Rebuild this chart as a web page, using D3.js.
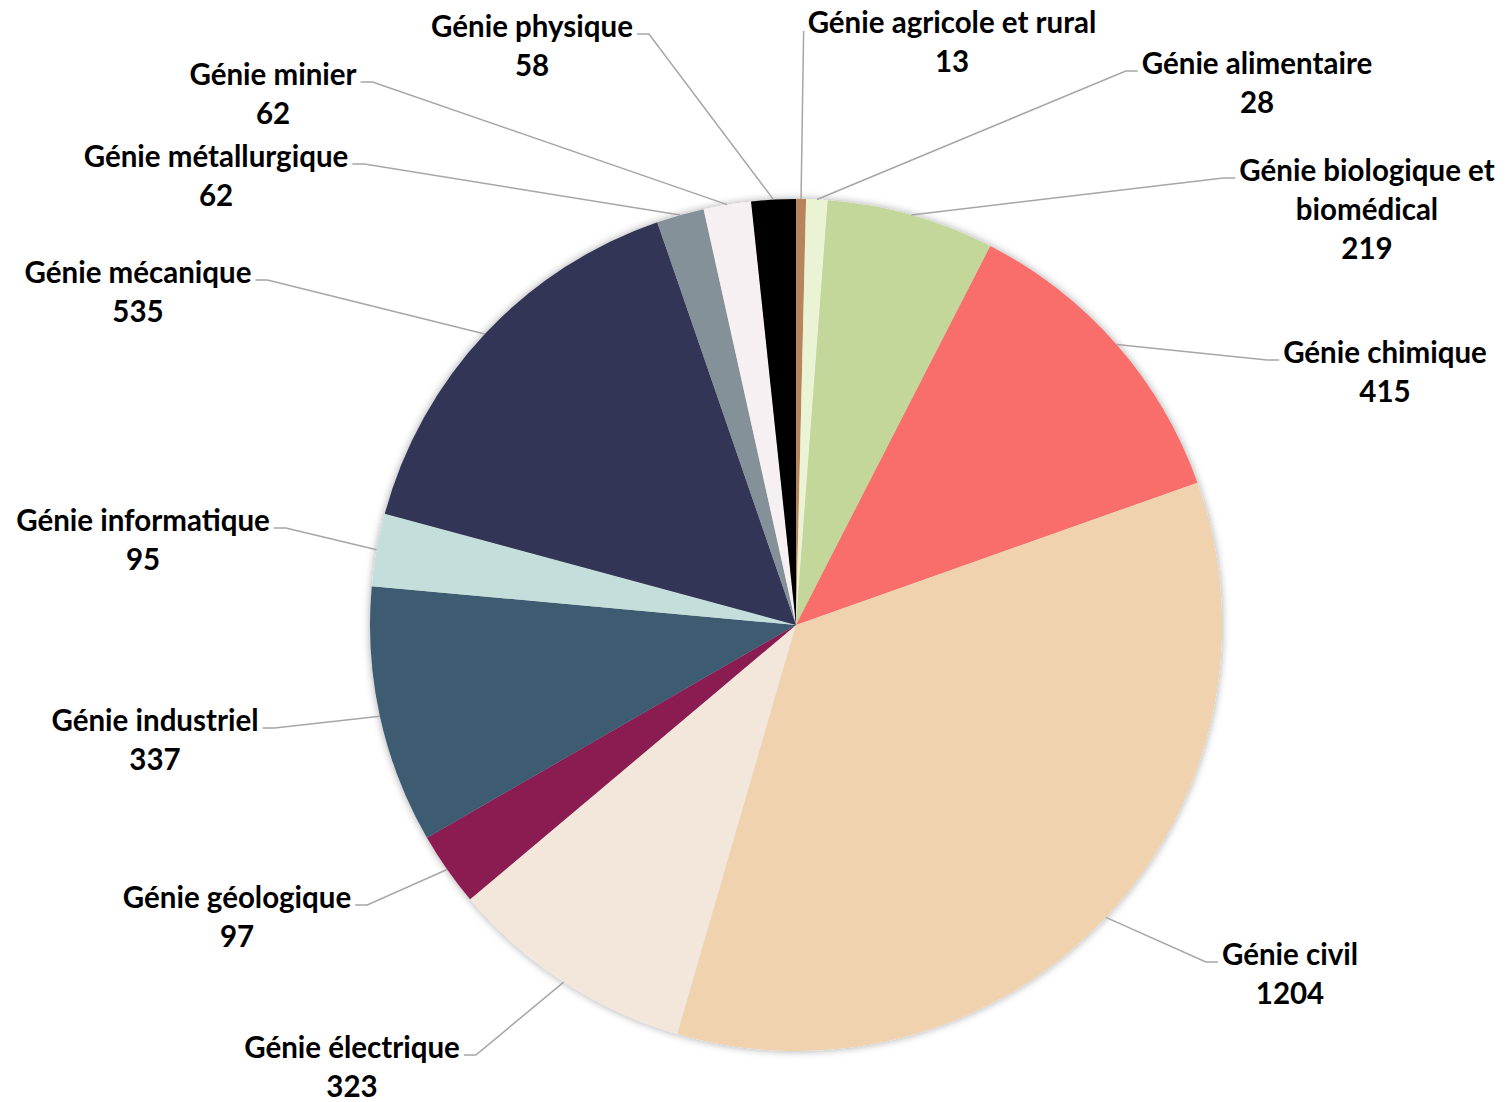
<!DOCTYPE html>
<html><head><meta charset="utf-8">
<script src="https://cdn.jsdelivr.net/npm/d3@7"></script>
<style>
html,body{margin:0;padding:0;background:#fff;}
svg text{font-family:Lato,"Open Sans",sans-serif;font-weight:700;fill:#000;}
</style></head>
<body><svg id="chart" width="1509" height="1102"></svg>
<script>
// ---- data ----
const categories = ["Génie agricole et rural","Génie alimentaire","Génie biologique et biomédical","Génie chimique","Génie civil","Génie électrique","Génie géologique","Génie industriel","Génie informatique","Génie mécanique","Génie métallurgique","Génie minier","Génie physique"];
const values = [13,28,219,415,1204,323,97,337,95,535,62,62,58];
const colors = ["#B8845B","#EAF4D4","#C4D79B","#F96D6B","#F0D2AE","#F3E6DB","#8B1C51","#3D5B72","#C4DFDB","#323455","#849198","#F6F0F3","#000000"];
// label text lines (category name wrapped as in the reference)
const labelLines = [["Génie agricole et rural"],["Génie alimentaire"],["Génie biologique et","biomédical"],["Génie chimique"],["Génie civil"],["Génie électrique"],["Génie géologique"],["Génie industriel"],["Génie informatique"],["Génie mécanique"],["Génie métallurgique"],["Génie minier"],["Génie physique"]];

// ---- layout ----
const cx = 796, cy = 625, R = 426;
const labelPos = [[952,21],[1257,62],[1367,169],[1385,351],[1290,953],[352,1046],[237,896],[155,719],[143,519],[138,271],[216,155],[273,73],[532,25]];
const stubLen = [0,12,12,12,12,12,12,12,12,12,12,12,12];
const lineH = 39.3, fs = 29.5;

const svg = d3.select("#chart");
const defs = svg.append("defs");
const f = defs.append("filter").attr("id","sh").attr("x","-10%").attr("y","-10%").attr("width","120%").attr("height","120%");
f.append("feGaussianBlur").attr("in","SourceAlpha").attr("stdDeviation",4);
f.append("feOffset").attr("dx",0).attr("dy",0).attr("result","b");
f.append("feComponentTransfer").append("feFuncA").attr("type","linear").attr("slope",0.35);
const m = f.append("feMerge"); m.append("feMergeNode"); m.append("feMergeNode").attr("in","SourceGraphic");

const data = categories.map((c,i)=>({cat:c,value:values[i],color:colors[i],lines:labelLines[i],i}));
const pie = d3.pie().value(d=>d.value).sort(null);
const arcs = pie(data);
const arc = d3.arc().innerRadius(0).outerRadius(R);

const g = svg.append("g").attr("transform",`translate(${cx},${cy})`);
g.append("g").attr("filter","url(#sh)").selectAll("path").data(arcs).join("path")
  .attr("d",arc).attr("fill",d=>d.data.color);

// labels
const lg = svg.append("g");
const labels = lg.selectAll("g.lab").data(arcs).join("g").attr("class","lab");
labels.each(function(d){
  const sel = d3.select(this);
  const [lx,ly] = labelPos[d.data.i];
  const lines = d.data.lines.concat([String(d.data.value)]);
  let maxW = 0;
  lines.forEach((t,k)=>{
    const tx = sel.append("text").attr("x",lx).attr("y",ly+k*lineH).attr("text-anchor","middle")
      .attr("dominant-baseline","central").attr("font-size",fs).text(t);
    if(k===0) maxW = tx.node().getComputedTextLength();
  });
  // leader line
  const a = (d.startAngle+d.endAngle)/2;
  const ax = cx + R*Math.sin(a), ay = cy - R*Math.cos(a);
  const right = lx > ax;
  const ey = ly + 9;
  const ex = right ? lx - maxW/2 - 4 : lx + maxW/2 + 4;
  const sx = right ? ex - stubLen[d.data.i] : ex + stubLen[d.data.i];
  const pts = stubLen[d.data.i] ? [[ax,ay],[sx,ey],[ex,ey]] : [[ax,ay],[ex,ey+1]];
  lg.insert("path",":first-child").attr("d",d3.line()(pts)).attr("fill","none").attr("stroke","#A6A6A6").attr("stroke-width",1.5);
});
</script></body></html>
